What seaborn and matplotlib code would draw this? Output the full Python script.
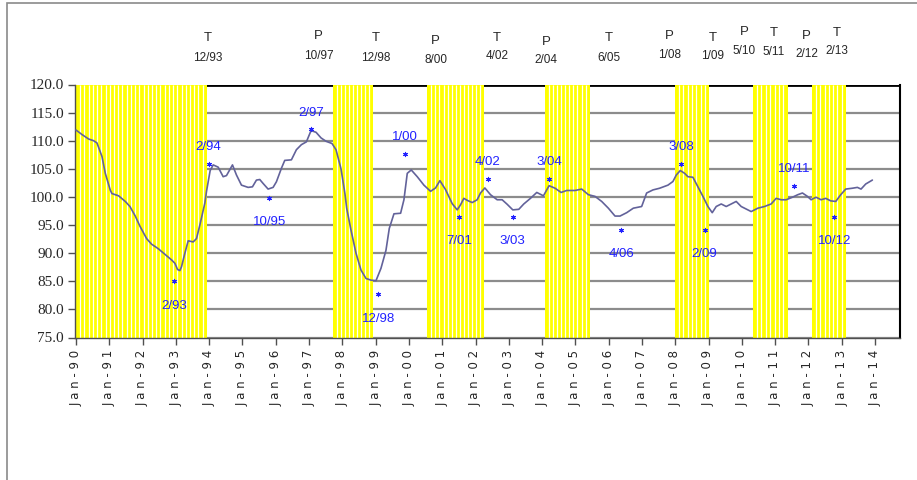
import numpy as np
import pandas as pd
import matplotlib
matplotlib.use('Agg')
import matplotlib.pyplot as plt
import matplotlib.patches as mpatches
import seaborn as sns

# Index series (decimal year, value)
years = [1990.00, 1990.18, 1990.38, 1990.53, 1990.63, 1990.78, 1990.88, 1991.03, 1991.08, 1991.28,
         1991.48, 1991.62, 1991.78, 1991.92, 1992.12, 1992.27, 1992.47, 1992.67, 1992.87, 1992.97,
         1993.05, 1993.12, 1993.17, 1993.27, 1993.37, 1993.52, 1993.62, 1993.72, 1993.87, 1993.92,
         1993.97, 1994.03, 1994.12, 1994.27, 1994.42, 1994.52, 1994.70, 1994.82, 1994.97, 1995.17,
         1995.30, 1995.42, 1995.52, 1995.62, 1995.77, 1995.92, 1996.02, 1996.17, 1996.27, 1996.47,
         1996.62, 1996.77, 1996.92, 1997.06, 1997.21, 1997.36, 1997.51, 1997.69, 1997.81, 1997.96,
         1998.08, 1998.13, 1998.26, 1998.41, 1998.56, 1998.71, 1998.86, 1999.01, 1999.16, 1999.31,
         1999.41, 1999.55, 1999.75, 1999.85, 1999.95, 2000.07, 2000.25, 2000.45, 2000.65, 2000.80,
         2000.93, 2001.10, 2001.30, 2001.45, 2001.55, 2001.65, 2001.75, 2001.90, 2002.05, 2002.15,
         2002.28, 2002.45, 2002.65, 2002.80, 2002.95, 2003.12, 2003.30, 2003.45, 2003.65, 2003.84,
         2004.04, 2004.21, 2004.39, 2004.57, 2004.74, 2004.99, 2005.19, 2005.39, 2005.59, 2005.79,
         2005.99, 2006.19, 2006.34, 2006.54, 2006.74, 2006.99, 2007.14, 2007.33, 2007.53, 2007.78,
         2007.93, 2008.03, 2008.15, 2008.28, 2008.38, 2008.53, 2008.68, 2008.83, 2008.98, 2009.11,
         2009.23, 2009.38, 2009.53, 2009.68, 2009.83, 2009.98, 2010.18, 2010.28, 2010.48, 2010.68,
         2010.88, 2011.03, 2011.18, 2011.33, 2011.52, 2011.68, 2011.82, 2011.97, 2012.08, 2012.23,
         2012.38, 2012.52, 2012.67, 2012.82, 2012.97, 2013.12, 2013.32, 2013.47, 2013.58, 2013.72,
         2013.92]
index_vals = [111.9, 111.1, 110.3, 110.0, 109.6, 107.2, 104.2, 101.2, 100.6, 100.2,
              99.2, 98.3, 96.6, 94.8, 92.6, 91.6, 90.8, 89.8, 88.8, 88.2,
              87.1, 86.9, 87.6, 90.0, 92.2, 92.0, 92.6, 95.0, 98.9, 101.0,
              102.7, 104.7, 105.7, 105.3, 103.6, 103.8, 105.7, 103.9, 102.1, 101.7,
              101.8, 103.0, 103.1, 102.4, 101.4, 101.7, 102.7, 105.1, 106.5, 106.6,
              108.4, 109.3, 109.8, 111.8, 111.5, 110.5, 109.9, 109.5, 108.4, 105.0,
              100.5, 98.0, 94.1, 90.0, 87.0, 85.5, 85.2, 85.1, 87.3, 90.5,
              94.4, 97.0, 97.1, 99.5, 104.2, 104.8, 103.6, 102.1, 101.0, 101.6,
              102.9, 101.3, 98.8, 97.7, 98.6, 99.75, 99.4, 99.0, 99.5, 100.7,
              101.6, 100.4, 99.5, 99.5, 98.7, 97.7, 97.8, 98.75, 99.75, 100.8,
              100.2, 102.0, 101.55, 100.8, 101.15, 101.15, 101.4, 100.4, 100.1, 99.2,
              98.0, 96.6, 96.6, 97.2, 98.0, 98.3, 100.7, 101.25, 101.55, 102.1,
              102.75, 103.9, 104.7, 104.2, 103.6, 103.5, 101.8, 100.1, 98.3, 97.2,
              98.3, 98.75, 98.3, 98.75, 99.2, 98.3, 97.7, 97.4, 98.0, 98.3,
              98.75, 99.75, 99.5, 99.5, 99.95, 100.4, 100.7, 100.1, 99.5, 99.95,
              99.5, 99.75, 99.3, 99.2, 100.4, 101.4, 101.55, 101.7, 101.4, 102.3,
              103.0]

# Shaded periods (start, end in decimal years)
band_start = [1990.00, 1997.72, 2000.55, 2004.08, 2007.98, 2010.32, 2012.10]
band_end = [1993.93, 1998.93, 2002.26, 2005.43, 2009.02, 2011.38, 2013.13]

# Turning-point labels at the top of the chart
top_kind = ['T', 'P', 'T', 'P', 'T', 'P', 'T', 'P', 'T', 'P', 'T', 'P', 'T']
top_dates = ['12/93', '10/97', '12/98', '8/00', '4/02', '2/04', '6/05', '1/08', '1/09',
             '5/10', '5/11', '2/12', '2/13']

# Marked points on the series
pt_labels = ['2/93', '2/94', '10/95', '2/97', '12/98', '1/00', '7/01', '4/02', '3/03',
             '3/04', '4/06', '3/08', '2/09', '10/11', '10/12']
pt_kind = ['T', 'P', 'T', 'P', 'T', 'P', 'T', 'P', 'T', 'P', 'T', 'P', 'T', 'P', 'T']
pt_x = [1992.95, 1993.98, 1995.81, 1997.05, 1999.08, 1999.87, 2001.51, 2002.37, 2003.12,
        2004.21, 2006.38, 2008.17, 2008.88, 2011.58, 2012.78]
pt_y = [85.0, 105.8, 99.9, 112.0, 82.7, 107.7, 96.5, 103.2, 96.5,
        103.2, 94.2, 105.8, 94.2, 102.0, 96.5]

tick_years = list(range(1990, 2015))
tick_labels = [' '.join('Jan-%02d' % (y % 100)) for y in tick_years]

# layout of the top labels (x in years, rows in data units above the axes)
top_x = [1993.95, 1997.29, 1999.00, 2000.80, 2002.65, 2004.13, 2006.00, 2007.82, 2009.13,
         2010.08, 2010.95, 2011.95, 2012.85]
top_row1 = [128.2, 128.7, 128.2, 127.8, 128.2, 127.5, 128.2, 128.7, 128.2, 129.3, 129.1, 128.7, 129.1]
top_row2 = [124.8, 125.0, 124.8, 124.3, 125.0, 124.3, 124.8, 125.2, 125.0, 125.9, 125.7, 125.4, 125.9]

sns.set_style('white')
plt.rcParams['font.family'] = ['Liberation Sans', 'DejaVu Sans']

fig = plt.figure(figsize=(9.17, 4.8), dpi=100)
ax = fig.add_axes([75 / 917, 1 - 337.5 / 480, 825 / 917, 253 / 480])

# yellow bands, striped by thin white lines every 1.5 months
for s, e in zip(band_start, band_end):
    ax.axvspan(s, e, color='#FFFF00', linewidth=0, zorder=1)
    n = max(1, int(round((e - s) / 0.125)))
    ax.vlines(s + np.arange(1, n) * (e - s) / n, 75, 120, color='white',
              linewidth=0.9, zorder=1.1)

df = pd.DataFrame({'year': years, 'value': index_vals})
sns.lineplot(data=df, x='year', y='value', color='#62629A', linewidth=1.2, ax=ax, zorder=3)

ax.scatter(pt_x, pt_y, marker=(6, 2, 0), s=9, color='#2222FF', linewidths=0.8, zorder=4)
for lab, k, x, y in zip(pt_labels, pt_kind, pt_x, pt_y):
    ly = y + 3.0 if k == 'P' else y - 4.4
    ax.text(x, ly, lab, color='#2222FF', fontsize=9.5, ha='center', va='center', zorder=5)

for k, d, x, r1, r2 in zip(top_kind, top_dates, top_x, top_row1, top_row2):
    ax.text(x, r1, k, fontsize=9.5, ha='center', va='center', clip_on=False)
    ax.text(x, r2, d, fontsize=8.5, ha='center', va='center', clip_on=False)

ax.set_xlim(1989.97, 2014.75)
ax.set_ylim(75, 120)
ax.set_yticks(np.arange(75, 121, 5))
ax.set_yticklabels(['%.1f' % v for v in np.arange(75, 121, 5)],
                   family='Liberation Serif', fontsize=11)
ax.set_xticks(tick_years)
ax.set_xticklabels(tick_labels, rotation=90, fontsize=8.5, family='DejaVu Sans',
                   va='top', ha='center')
ax.set_xlabel('')
ax.set_ylabel('')

ax.set_axisbelow(True)
ax.yaxis.grid(True, color='#8C8C8C', linewidth=1.6)
ax.xaxis.grid(False)
ax.axhline(120, color='black', linewidth=2, zorder=0.8)
ax.spines['top'].set_visible(False)
ax.spines['right'].set_color('black')
ax.spines['right'].set_linewidth(1.5)
for sp in ['left', 'bottom']:
    ax.spines[sp].set_color('#505050')
    ax.spines[sp].set_linewidth(1.0)
ax.tick_params(axis='both', direction='out', length=5, width=1, color='#505050',
               left=True, bottom=True, pad=3)
ax.tick_params(axis='x', pad=4)

# outer frame of the chart area
fig.patches.append(mpatches.Rectangle((7 / 917, -0.1), 1.2, 1 - 3 / 480 + 0.1,
                                      fill=False, edgecolor='#8A8A8A', linewidth=1.2,
                                      transform=fig.transFigure, figure=fig))

fig.savefig('out.png', dpi=100)
